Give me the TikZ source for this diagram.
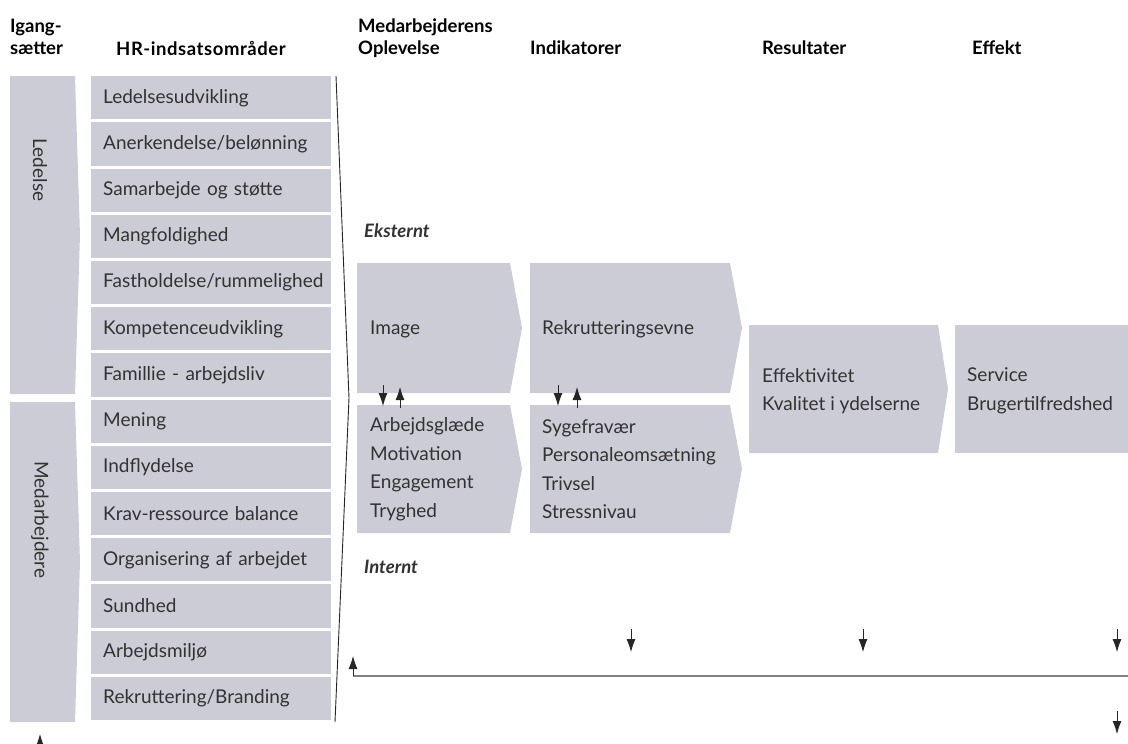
\documentclass[tikz,border=0pt]{standalone}
\usepackage{fontspec}
\setmainfont{Lato}
\usetikzlibrary{arrows.meta}
\definecolor{boxc}{RGB}{204,204,214}
\definecolor{txt}{RGB}{50,50,50}
\definecolor{linec}{RGB}{130,130,130}
\begin{document}
\begin{tikzpicture}[x=1pt,y=-1pt,
  box/.style={fill=boxc},
  hrbox/.style={fill=boxc, anchor=north west, text width=216pt, inner xsep=12pt, inner ysep=0pt,
    minimum height=43.2pt, align=left, text=txt, font=\fontsize{19}{22}\selectfont},
  lbl/.style={anchor=west, text=txt, inner sep=0pt, align=left, font=\fontsize{19}{28.5}\selectfont},
  hdr/.style={anchor=north west, inner sep=0pt, align=left, font=\fontsize{18.5}{22}\selectfont\bfseries},
  side/.style={rotate=-90, text=txt, inner sep=0pt, font=\fontsize{19}{22}\selectfont},
  loc/.style={anchor=west, inner sep=0pt, text=txt, font=\fontsize{18.5}{22}\selectfont\bfseries\itshape},
  arr/.style={-{Latex[length=13pt,width=9pt]}, line width=0.8pt, draw=black!85}]
\useasboundingbox (0,0) rectangle (1128,744);

% headers
\node[hdr] (h1) at (10,19) {Igang-\\sætter};
\node[hdr] (h2) at (116,41) {\addfontfeatures{LetterSpace=3}HR-indsatsområder};
\node[hdr] (h3) at (358,19) {Medarbejderens\\Oplevelse};
\node[hdr] (h4) at (530,41) {Indikatorer};
\node[hdr] (h5) at (762,41) {Resultater};
\node[hdr] (h6) at (972,41) {Effekt};

% left column
\fill[box] (10,76) -- (75,76) -- (80,235) -- (75,394) -- (10,394) -- cycle;
\fill[box] (10,402) -- (75,402) -- (80,562) -- (75,722) -- (10,722) -- cycle;
\node[side] (led) at (40,170) {Ledelse};
\node[side] (med) at (40,520) {Medarbejdere};
\coordinate (la1) at (40,748);
\coordinate (la2) at (40,734);
\draw[arr] (la1) -- (la2);

% HR boxes
\node[hrbox] (hr0) at (91,76.0) {Ledelsesudvikling};
\node[hrbox] (hr1) at (91,122.2) {Anerkendelse/belønning};
\node[hrbox] (hr2) at (91,168.4) {Samarbejde og støtte};
\node[hrbox] (hr3) at (91,214.6) {Mangfoldighed};
\node[hrbox] (hr4) at (91,260.8) {Fastholdelse/rummelighed};
\node[hrbox] (hr5) at (91,307.0) {Kompetenceudvikling};
\node[hrbox] (hr6) at (91,353.2) {Famillie - arbejdsliv};
\node[hrbox] (hr7) at (91,399.4) {Mening};
\node[hrbox] (hr8) at (91,445.6) {Indflydelse};
\node[hrbox] (hr9) at (91,491.8) {Krav-ressource balance};
\node[hrbox] (hr10) at (91,538.0) {Organisering af arbejdet};
\node[hrbox] (hr11) at (91,584.2) {Sundhed};
\node[hrbox] (hr12) at (91,630.4) {Arbejdsmiljø};
\node[hrbox] (hr13) at (91,676.6) {Rekruttering/Branding};

% bracket line
\coordinate (b1) at (336,76);
\coordinate (b2) at (349,398);
\coordinate (b3) at (335,722);
\draw[line width=0.9pt, black!85] (b1) -- (b2) -- (b3);

% location labels
\node[loc] (eks) at (364,231) {Eksternt};
\node[loc] (int) at (364,567) {Internt};

% chevron boxes
\fill[box] (357,263) -- (510,263) -- (522,328) -- (510,393) -- (357,393) -- cycle;
\fill[box] (357,405) -- (510,405) -- (522,469) -- (510,533) -- (357,533) -- cycle;
\fill[box] (530,263) -- (730,263) -- (742,328) -- (730,393) -- (530,393) -- cycle;
\fill[box] (530,405) -- (730,405) -- (742,469) -- (730,533) -- (530,533) -- cycle;
\fill[box] (749,325) -- (938,325) -- (948,389) -- (938,453) -- (749,453) -- cycle;
\fill[box] (955,325) -- (1128,325) -- (1128,453) -- (955,453) -- cycle;

\node[lbl] (image) at (370,329) {Image};
\node[lbl] (oplev) at (370,469) {Arbejdsglæde\\Motivation\\Engagement\\Tryghed};
\node[lbl] (rekr) at (542,329) {Rekrutteringsevne};
\node[lbl] (indik) at (542,469) {Sygefravær\\Personaleomsætning\\Trivsel\\Stressnivau};
\node[lbl] (result) at (762,391) {Effektivitet\\Kvalitet i ydelserne};
\node[lbl] (effekt) at (967,391) {Service\\Brugertilfredshed};

% small arrows between boxes
\coordinate (a1s) at (383,385); \coordinate (a1e) at (383,406);
\coordinate (a2s) at (400,408); \coordinate (a2e) at (400,387);
\coordinate (a3s) at (558,385); \coordinate (a3e) at (558,406);
\coordinate (a4s) at (577,408); \coordinate (a4e) at (577,387);
\draw[arr] (a1s) -- (a1e);
\draw[arr] (a2s) -- (a2e);
\draw[arr] (a3s) -- (a3e);
\draw[arr] (a4s) -- (a4e);

% feedback line
\coordinate (fr) at (1128,676);
\coordinate (fl) at (353,676);
\coordinate (ft) at (353,656);
\draw[linec, line width=1.2pt] (fr) -- (fl);
\draw[arr] (fl) -- (ft);

\coordinate (d1s) at (631,629); \coordinate (d1e) at (631,652);
\coordinate (d2s) at (863,629); \coordinate (d2e) at (863,652);
\coordinate (d3s) at (1117,629); \coordinate (d3e) at (1117,652);
\coordinate (d4s) at (1117,711); \coordinate (d4e) at (1117,734);
\draw[arr] (d1s) -- (d1e);
\draw[arr] (d2s) -- (d2e);
\draw[arr] (d3s) -- (d3e);
\draw[arr] (d4s) -- (d4e);
\end{tikzpicture}
\end{document}
